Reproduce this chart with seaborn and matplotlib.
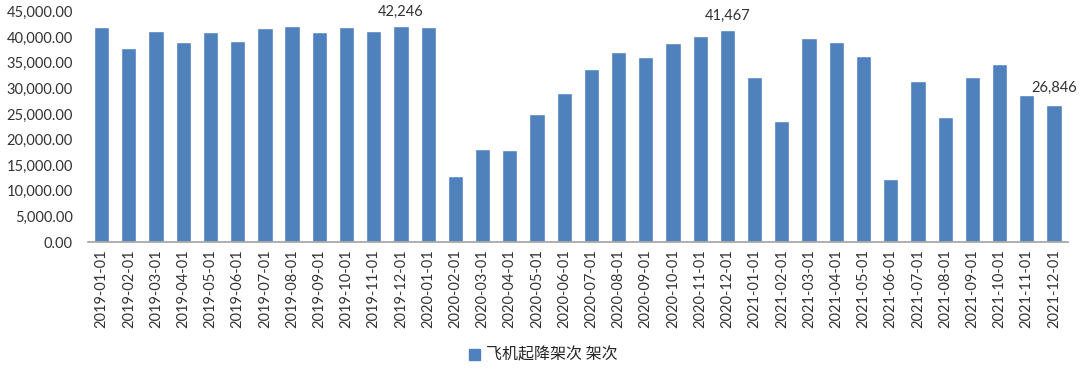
import matplotlib
matplotlib.use("Agg")
import matplotlib.pyplot as plt
import seaborn as sns
import pandas as pd
from matplotlib.patches import Patch

months = [f"{y}-{m:02d}-01" for y in (2019, 2020, 2021) for m in range(1, 13)]
values = [42050, 37830, 41270, 39000, 41075, 39190, 41730, 42240, 40950, 41930,
          41270, 42246, 42050, 12950, 18160, 17970, 25000, 29040, 33790, 37170,
          36070, 38800, 40300, 41467, 32160, 23700, 39780, 39120, 36390, 12300,
          31510, 24350, 32160, 34760, 28710, 26846]
annot_idx = [11, 23, 35]
annot_txt = ["42,246", "41,467", "26,846"]
series_name = "飞机起降架次 架次"
yticks = [0, 5000, 10000, 15000, 20000, 25000, 30000, 35000, 40000, 45000]

sns.set_theme(style="white")
plt.rcParams['font.family'] = ['Lato', 'Noto Sans CJK SC', 'DejaVu Sans']

df = pd.DataFrame({"month": months, "value": values})
fig = plt.figure(figsize=(10.8, 3.69), dpi=100)
ax = fig.add_axes([0.0815, 0.344, 0.907, 0.6246])
bar_color = "#4F81BD"
sns.barplot(data=df, x="month", y="value", color=bar_color, width=0.56,
            saturation=1, ax=ax)
ax.set_ylim(0, 45000)
ax.set_xlim(-0.5, len(months) - 0.5)
ax.set_yticks(yticks)
ax.set_yticklabels([f"{v:,.2f}" for v in yticks], fontsize=10.5, color="#333333")
ax.set_xticks(range(len(months)))
ax.set_xticklabels(months, rotation=90, fontsize=10.5, color="#333333")
ax.set_xlabel("")
ax.set_ylabel("")
for s in ["top", "right", "left"]:
    ax.spines[s].set_visible(False)
ax.spines["bottom"].set_color("#A6A6A6")
ax.tick_params(axis="x", length=0, pad=5)
ax.tick_params(axis="y", length=0, pad=11)

offsets = [1300, 1300, 1900]
for i, t, off in zip(annot_idx, annot_txt, offsets):
    ax.text(i, values[i] + off, t, ha="center", va="bottom", fontsize=10.5,
            color="#333333")

handle = Patch(facecolor=bar_color, edgecolor=bar_color)
fig.legend([handle], [series_name], loc="center", bbox_to_anchor=(0.503, 0.037),
           frameon=False, handlelength=0.7, handleheight=0.7,
           handletextpad=0.4, prop={"family": ["Noto Sans CJK SC"], "size": 11.5})

fig.savefig("out.png", dpi=100)
